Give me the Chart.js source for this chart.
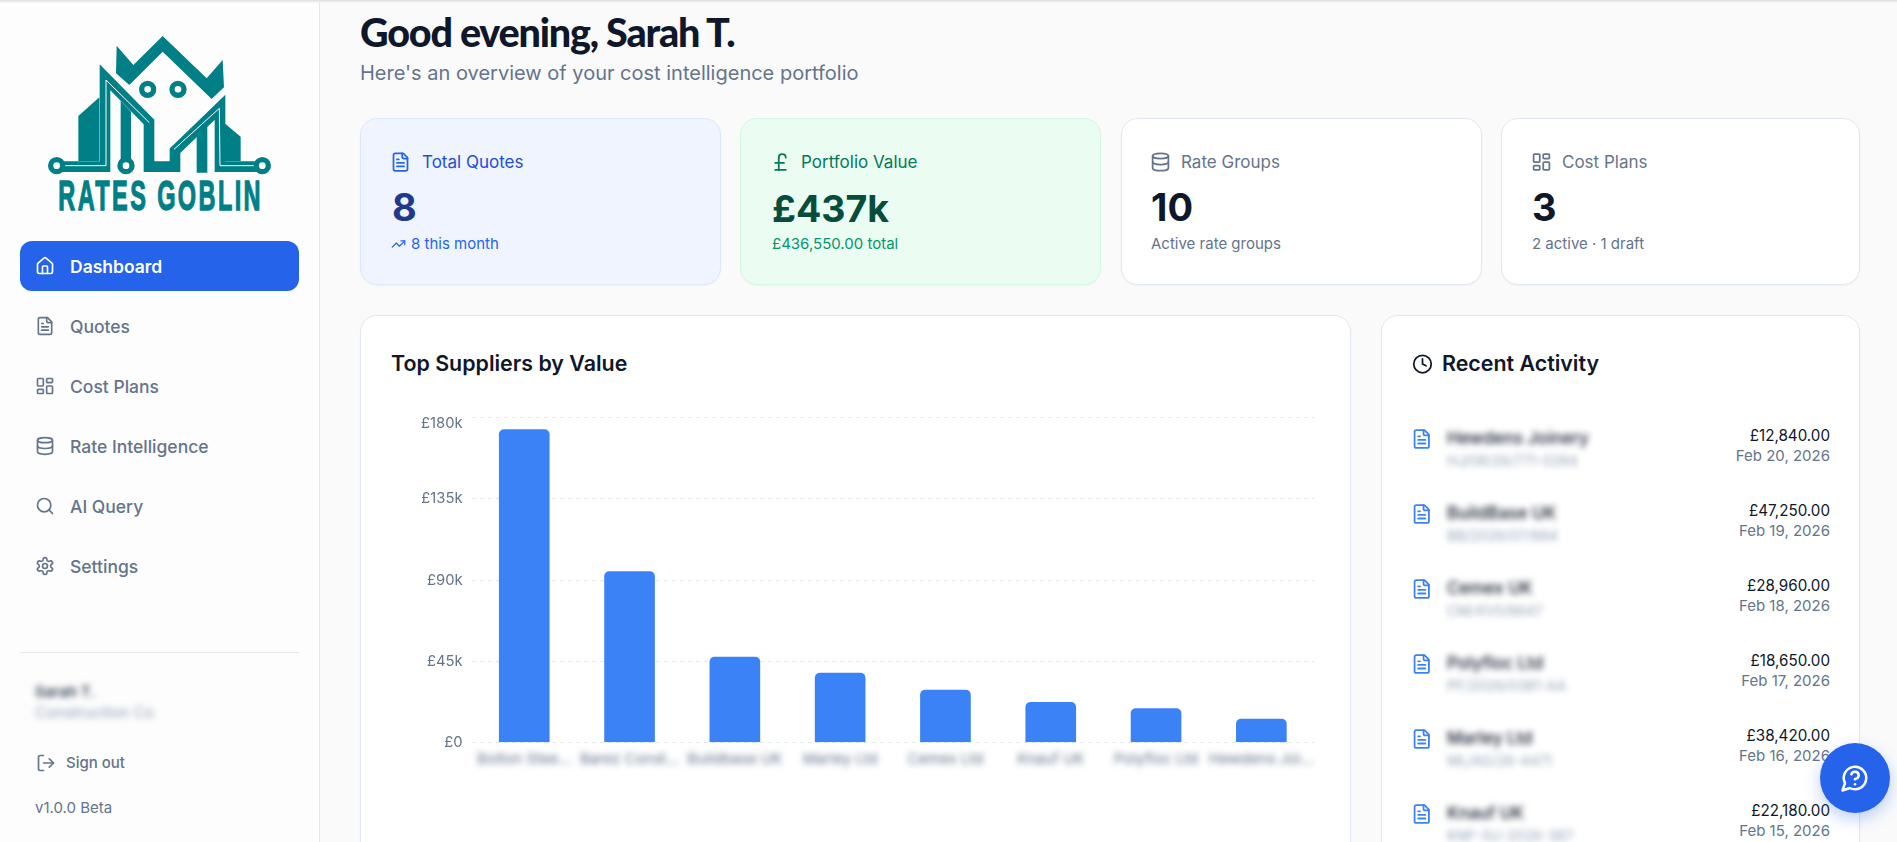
<!DOCTYPE html>
<html>
<head>
<meta charset="utf-8">
<title>Rates Goblin</title>
<script src="https://cdn.jsdelivr.net/npm/chart.js@4"></script>
<style>
    * { box-sizing: border-box; }
    html, body { margin: 0; width: 1897px; height: 842px; overflow: hidden; background: #fafafb; font-family: Inter, "Noto Sans", sans-serif; color: #0f172a; }
    #topline { position: absolute; left: 0; top: 0; width: 1897px; height: 3px; background: linear-gradient(#dcdee2, #fafafb); z-index: 5; }
    #sidebar { position: absolute; left: 0; top: 0; width: 320px; height: 842px; background: #fdfdfd; border-right: 1px solid #e5e7eb; }
    #content { position: absolute; left: 0; top: 0; width: 1897px; height: 842px; overflow: hidden; }
    .t { position: absolute; white-space: nowrap; transform: translateY(-50%); line-height: 1.2; }
    .icon { position: absolute; fill: none; stroke: currentColor; stroke-width: 2; stroke-linecap: round; stroke-linejoin: round; transform: translateY(-50%); }
    .box { position: absolute; border-radius: 17px; border: 1.5px solid #e2e8f0; background: #fff; box-shadow: 0 1px 2px rgba(15,23,42,.04); }
    #navActive { position: absolute; left: 20px; top: 241px; width: 279px; height: 50px; border-radius: 12px; background: #2563eb; }
    #divider { position: absolute; left: 20px; top: 652px; width: 279px; height: 1px; background: #e5e7eb; }
    #helpBtn { position: absolute; left: 1820px; top: 743px; width: 70px; height: 70px; border-radius: 50%; background: #2563eb; box-shadow: 0 6px 16px rgba(37,99,235,.3); }
    #chartWrap { position: absolute; left: 380px; top: 400px; width: 950px; height: 400px; }
    .blur { filter: blur(3px); }
</style>
</head>
<body>
<div id="topline"></div>
<div id="sidebar">
    <svg style="position:absolute;left:0;top:0" width="320" height="240" viewBox="0 0 960 720">
        <g fill="#007f87">
            <polygon points="350,137 400,195 488,108 620,235 668,180 672,262 635,297 488,155 388,255 348,220"/>
            <polygon points="235,348 298,292 298,483 235,483"/>
            <polygon points="672,368 722,410 722,483 672,483"/>
            <polygon points="362,302 393,335 393,480 362,480"/>
            <polygon points="590,410 622,378 622,518 590,518"/>
        </g>
        <polyline points="170,500 315,500 315,232 447,366 447,500 525,500 525,452 660,322 660,500 787,500" fill="none" stroke="#007f87" stroke-width="32" stroke-linejoin="miter" stroke-miterlimit="6"/>
        <polyline points="190,497 318,497 318,240 448,368" fill="none" stroke="#fdfdfd" stroke-width="3"/>
        <polyline points="660,497 658,325 522,448" fill="none" stroke="#fdfdfd" stroke-width="3"/>
        <polyline points="660,497 765,497" fill="none" stroke="#fdfdfd" stroke-width="3"/>
        <g fill="#fdfdfd" stroke="#007f87" stroke-width="16">
            <circle cx="443" cy="268" r="18"/>
            <circle cx="534" cy="268" r="18"/>
            <circle cx="170" cy="497" r="18"/>
            <circle cx="378" cy="497" r="18"/>
            <circle cx="787" cy="497" r="18"/>
        </g>
        <text transform="translate(175,631) scale(.55,1)" font-family="Liberation Sans" font-weight="700" font-size="128" fill="#007f87" stroke="#007f87" stroke-width="4" textLength="1103">RATES GOBLIN</text>
    </svg>
    <div id="navActive"></div>
    <div id="divider"></div>
</div>
<div id="content"></div>
<div id="chartWrap"><canvas id="graph" width="950" height="400"></canvas></div>
<div id="helpBtn"></div>

<script>
const supplierLabels = ['Bolton Stee...', 'Barez Const...', 'Buildbase UK', 'Marley Ltd', 'Cemex Ltd', 'Knauf UK', 'Polyfloc Ltd', 'Hewdens Joi...'];
const supplierValues = [173500, 94750, 47250, 38420, 28960, 22180, 18650, 12840];
const yTickValues = [0, 45000, 90000, 135000, 180000];
const yTickLabels = ['£0', '£45k', '£90k', '£135k', '£180k'];

const activityNames = ['Hewdens Joinery', 'BuildBase UK', 'Cemex UK', 'Polyfloc Ltd', 'Marley Ltd', 'Knauf UK'];
const activityRefs = ['HJ/08/26/771-0284', 'BB/2026/07/884', 'CM/41/0/9647', 'PF/2026/0381-AA', 'ML/AG/26-4471', 'KNF-SU-2026-387'];
const activityAmounts = ['£12,840.00', '£47,250.00', '£28,960.00', '£18,650.00', '£38,420.00', '£22,180.00'];
const activityDates = ['Feb 20, 2026', 'Feb 19, 2026', 'Feb 18, 2026', 'Feb 17, 2026', 'Feb 16, 2026', 'Feb 15, 2026'];

const navLabels = ['Dashboard', 'Quotes', 'Cost Plans', 'Rate Intelligence', 'AI Query', 'Settings'];

const ICONS = {
    home: '<path d="M15 21v-8a1 1 0 0 0-1-1h-4a1 1 0 0 0-1 1v8"/><path d="M3 10a2 2 0 0 1 .709-1.528l7-5.999a2 2 0 0 1 2.582 0l7 5.999A2 2 0 0 1 21 10v9a2 2 0 0 1-2 2H5a2 2 0 0 1-2-2z"/>',
    file: '<path d="M15 2H6a2 2 0 0 0-2 2v16a2 2 0 0 0 2 2h12a2 2 0 0 0 2-2V7Z"/><path d="M14 2v4a2 2 0 0 0 2 2h4"/><path d="M10 9H8"/><path d="M16 13H8"/><path d="M16 17H8"/>',
    grid: '<rect width="7" height="9" x="3" y="3" rx="1"/><rect width="7" height="5" x="14" y="3" rx="1"/><rect width="7" height="9" x="14" y="12" rx="1"/><rect width="7" height="5" x="3" y="16" rx="1"/>',
    db: '<ellipse cx="12" cy="5" rx="9" ry="3"/><path d="M3 5V19A9 3 0 0 0 21 19V5"/><path d="M3 12A9 3 0 0 0 21 12"/>',
    search: '<circle cx="11" cy="11" r="8"/><path d="m21 21-4.3-4.3"/>',
    gear: '<path d="M12.22 2h-.44a2 2 0 0 0-2 2v.18a2 2 0 0 1-1 1.73l-.43.25a2 2 0 0 1-2 0l-.15-.08a2 2 0 0 0-2.73.73l-.22.38a2 2 0 0 0 .73 2.73l.15.1a2 2 0 0 1 1 1.72v.51a2 2 0 0 1-1 1.74l-.15.09a2 2 0 0 0-.73 2.73l.22.38a2 2 0 0 0 2.73.73l.15-.08a2 2 0 0 1 2 0l.43.25a2 2 0 0 1 1 1.73V20a2 2 0 0 0 2 2h.44a2 2 0 0 0 2-2v-.18a2 2 0 0 1 1-1.73l.43-.25a2 2 0 0 1 2 0l.15.08a2 2 0 0 0 2.73-.73l.22-.39a2 2 0 0 0-.73-2.73l-.15-.08a2 2 0 0 1-1-1.74v-.5a2 2 0 0 1 1-1.74l.15-.09a2 2 0 0 0 .73-2.73l-.22-.38a2 2 0 0 0-2.73-.73l-.15.08a2 2 0 0 1-2 0l-.43-.25a2 2 0 0 1-1-1.73V4a2 2 0 0 0-2-2z"/><circle cx="12" cy="12" r="3"/>',
    logout: '<path d="M9 21H5a2 2 0 0 1-2-2V5a2 2 0 0 1 2-2h4"/><polyline points="16 17 21 12 16 7"/><line x1="21" y1="12" x2="9" y2="12"/>',
    trend: '<polyline points="22 7 13.5 15.5 8.5 10.5 2 17"/><polyline points="16 7 22 7 22 13"/>',
    pound: '<path d="M18 7c0-5.333-8-5.333-8 0"/><path d="M10 7v14"/><path d="M6 21h12"/><path d="M6 13h10"/>',
    clock: '<circle cx="12" cy="12" r="10"/><polyline points="12 6 12 12 16 14"/>',
    help: '<path d="M7.9 20A9 9 0 1 0 4 16.1L2 22Z"/><path d="M9.09 9a3 3 0 0 1 5.83 1c0 2-3 3-3 3"/><path d="M12 17h.01"/>'
};

const content = document.getElementById('content');

function text(x, cy, str, size, weight, color, extra) {
    const el = document.createElement('div');
    el.className = 't';
    el.textContent = str;
    el.style.cssText = `left:${x}px;top:${cy}px;font-size:${size}px;font-weight:${weight};color:${color};${extra || ''}`;
    content.appendChild(el);
    return el;
}

function textRight(x, cy, str, size, weight, color) {
    const el = text(0, cy, str, size, weight, color);
    el.style.left = 'auto';
    el.style.right = (1897 - x) + 'px';
    return el;
}

function icon(name, x, cy, size, color, sw) {
    const s = `<svg class="icon" viewBox="0 0 24 24" width="${size}" height="${size}" style="left:${x}px;top:${cy}px;color:${color};stroke-width:${sw || 2}">${ICONS[name]}</svg>`;
    content.insertAdjacentHTML('beforeend', s);
}

function box(x, y, w, h, bg, border) {
    const el = document.createElement('div');
    el.className = 'box';
    el.style.cssText = `left:${x}px;top:${y}px;width:${w}px;height:${h}px;` + (bg ? `background:${bg};` : '') + (border ? `border-color:${border};` : '');
    content.appendChild(el);
}

// sidebar
const navIcons = ['home', 'file', 'grid', 'db', 'search', 'gear'];
navLabels.forEach((label, i) => {
    const cy = 266 + i * 60;
    const col = i === 0 ? '#ffffff' : '#64748b';
    icon(navIcons[i], 35, cy, 20, col);
    text(70, cy, label, 17.5, i === 0 ? 600 : 500, col);
});
text(35, 692, 'Sarah T.', 15, 600, '#334155').classList.add('blur');
text(35, 713, 'Construction Co', 15.5, 400, '#94a3b8').classList.add('blur');
icon('logout', 36, 763, 20, '#64748b');
text(66, 763, 'Sign out', 15, 500, '#64748b');
text(35, 808, 'v1.0.0 Beta', 15, 400, '#64748b');

// heading
text(360, 32, 'Good evening, Sarah T.', 39.5, 900, '#0f172a', 'letter-spacing:-1.2px;font-family:Lato,Inter,sans-serif;');
text(360, 73, "Here's an overview of your cost intelligence portfolio", 20, 400, '#64748b');

// stat cards
box(360, 118, 361, 167, '#eff4fe', '#dbe8fd');
box(740, 118, 361, 167, '#ebfcf3', '#d3f8e3');
box(1121, 118, 361, 167);
box(1501, 118, 359, 167);

icon('file', 390, 162, 21, '#2563eb');
text(422, 162, 'Total Quotes', 17, 400, '#1d4ed8');
text(392, 208, '8', 38, 700, '#1e3a8a');
icon('trend', 391, 244, 15, '#2563eb');
text(411, 244, '8 this month', 15, 400, '#2563eb');

icon('pound', 770, 162, 21, '#047857');
text(801, 162, 'Portfolio Value', 17, 400, '#047857');
text(772, 208, '£437k', 37.5, 700, '#064e3b');
text(772, 244, '£436,550.00 total', 15, 400, '#059669');

icon('db', 1150, 162, 21, '#64748b');
text(1181, 162, 'Rate Groups', 17, 400, '#64748b');
text(1151, 208, '10', 38, 700, '#0f172a');
text(1151, 244, 'Active rate groups', 15, 400, '#64748b');

icon('grid', 1531, 162, 21, '#64748b');
text(1562, 162, 'Cost Plans', 17, 400, '#64748b');
text(1532, 208, '3', 38, 700, '#0f172a');
text(1532, 244, '2 active · 1 draft', 15, 400, '#64748b');

// chart card and activity card
box(360, 315, 991, 620);
box(1381, 315, 479, 620);
text(391, 364, 'Top Suppliers by Value', 21.4, 600, '#0f172a');
icon('clock', 1412, 364, 21, '#0f172a');
text(1442, 364, 'Recent Activity', 21.4, 600, '#0f172a');

activityNames.forEach((name, i) => {
    const off = i * 75;
    icon('file', 1410.5, 439 + off, 21.5, '#3b82f6');
    text(1447, 438 + off, name, 17, 500, '#0f172a').classList.add('blur');
    text(1447, 461 + off, activityRefs[i], 14, 400, '#94a3b8').classList.add('blur');
    textRight(1830, 435.5 + off, activityAmounts[i], 15.2, 400, '#0f172a');
    textRight(1830, 455.5 + off, activityDates[i], 15, 400, '#64748b');
});

document.getElementById('helpBtn').innerHTML = `<svg viewBox="0 0 24 24" width="30" height="30" style="position:absolute;left:20px;top:20px;fill:none;stroke:#fff;stroke-width:2;stroke-linecap:round;stroke-linejoin:round">${ICONS.help}</svg>`;

// blur the supplier names and nudge the top y label down, as in the screenshot
const axisTweaks = {
    id: 'axisTweaks',
    beforeDraw(chart) {
        const xScale = chart.scales.x;
        if (!xScale._blurred) {
            const drawLabels = xScale.drawLabels;
            xScale.drawLabels = function (area) {
                chart.ctx.save();
                chart.ctx.filter = 'blur(3px)';
                drawLabels.call(this, area);
                chart.ctx.restore();
            };
            xScale._blurred = true;
        }
        const top = chart.scales.y.getLabelItems().find(item => item.label === yTickLabels[yTickLabels.length - 1]);
        if (top && !top.nudged) {
            top.options.translation[1] += 6;
            top.nudged = true;
        }
    }
};

new Chart(document.getElementById('graph'), {
    type: 'bar',
    data: {
        labels: supplierLabels,
        datasets: [{
            data: supplierValues,
            backgroundColor: '#3b82f6',
            barThickness: 50,
            borderRadius: { topLeft: 5, topRight: 5, bottomLeft: 0, bottomRight: 0 },
            borderSkipped: false
        }]
    },
    options: {
        responsive: false,
        animation: false,
        devicePixelRatio: 1,
        layout: { padding: { top: 17.3, right: 16, left: 0, bottom: 0 } },
        plugins: { legend: { display: false }, tooltip: { enabled: false } },
        scales: {
            x: {
                grid: { display: false },
                border: { display: false },
                ticks: { color: '#64748b', font: { family: 'Inter', size: 15 }, maxRotation: 0, autoSkip: false, padding: 0 },
                afterFit(scale) { scale.height = 57.7; }
            },
            y: {
                min: 0,
                max: 180000,
                afterBuildTicks(scale) { scale.ticks = yTickValues.map(value => ({ value })); },
                grid: { color: '#e2e8f0', tickLength: 0 },
                border: { display: false, dash: [4, 4] },
                ticks: {
                    color: '#64748b',
                    font: { family: 'Inter', size: 14.8 },
                    padding: 9,
                    callback: value => yTickLabels[yTickValues.indexOf(value)]
                },
                afterFit(scale) { scale.width = 91.6; }
            }
        }
    },
    plugins: [axisTweaks]
});
</script>
</body>
</html>
